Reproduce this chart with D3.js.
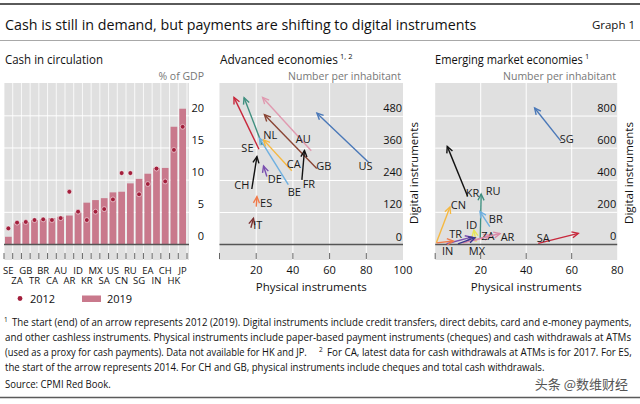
<!DOCTYPE html>
<html><head><meta charset="utf-8">
<script src="https://cdn.jsdelivr.net/npm/d3@7"></script>
<style>body{margin:0;background:#fff}svg{display:block;font-family:"Open Sans",sans-serif}</style>
</head><body><svg id="c" width="640" height="404"></svg>
<script>
// ---------- DATA ----------
const categories = ["SE","ZA","GB","TR","BR","CA","AU","AR","ID","KR","MX","SA","US","CN","RU","SG","EA","IN","CH","HK","JP"];
const cash2019 = [1.2,3.3,3.5,3.8,3.9,4.1,4.3,4.5,5.0,6.5,6.9,7.2,8.1,8.2,9.5,10.2,11.0,11.9,11.9,18.3,21.1];
const cash2012 = [2.5,3.4,3.5,3.8,3.9,3.8,4.1,8.2,5.1,3.8,5.1,5.5,7.0,11.1,11.1,7.8,9.4,11.8,9.8,14.7,18.3];
const cashTicks = [0,5,10,15,20];

const advCountries = ["SE","NL","BE","CA","AU","GB","US","FR","CH","DE","ES","IT"];
const advPhys2012 = [21.5,23.3,37.5,39.4,50.0,53.0,81.2,44.9,17.6,25.8,20.0,17.1];
const advDig2012  = [357,373,224,276,351,285,308,242,208,255,142,63];
const advPhys2019 = [7.9,13.4,21.8,24.0,23.5,24.5,53.1,46.3,20.4,24.0,20.4,18.5];
const advDig2019  = [551,550,398,392,551,486,492,352,329,294,179,98];
const advXTicks = [20,40,60,80,100];
const advYTicks = [0,120,240,360,480];

const emeCountries = ["SG","KR","RU","CN","BR","ID","ZA","TR","AR","SA","IN","MX"];
const emePhys2012 = [55.2,14.2,19.8,0.5,24.0,18.0,17.0,5.0,12.0,45.3,0.6,10.0];
const emeDig2012  = [645,302,34,11,111,16,22,4,9,7,10,4];
const emePhys2019 = [43.7,5.3,20.2,6.5,19.7,17.0,24.0,16.0,28.5,62.9,8.0,17.5];
const emeDig2019  = [850,611,314,233,205,90,58,46,68,69,21,42];
const emeXTicks = [20,40,60,80];
const emeYTicks = [0,200,400,600,800];

// ---------- STYLES ----------
const advColors = ["#c8283c","#3f8f7f","#6fb0e0","#f5b841","#e09ab0","#8a4534","#4a78b8","#111111","#111111","#7a4fb0","#f07a4a","#7b3030"];
const advLabelOff = [[-11.5,-1],[8,-10],[6,7],[2,-7],[-8,-12],[7,-2],[-3,4],[7,4],[-10,-4],[8,3],[10,-3],[7,-3]];
const emeColors = ["#4a78b8","#111111","#3f8f7f","#f5b841","#6fb0e0","#e6e65a","#e09ab0","#7a4fb0","#d98aa8","#c8283c","#f07a4a","#3a3a90"];
const emeLabelOff = [[6,-2],[5,-3],[13,-48],[22,-38],[6,-7],[-4.5,-16.5],[14,-5],[9,-10],[45,-6],[5,-5],[11,8],[19,7]];

const GREY = "#e0e0e0", BAR = "#c9798c", DOT = "#a31f3c", AXIS = "#555";
const svg = d3.select("#c");
svg.append("rect").attr("width",640).attr("height",404).attr("fill","#fff");

// text squeezed horizontally to a given width (condensed look)
function fitText(x, y, t, width, size, fill, family) {
  const e = svg.append("text").attr("x",0).attr("y",0).attr("font-size",size).attr("fill",fill||"#111").text(t);
  if (family) e.style("font-family",family);
  const w = e.node().getComputedTextLength();
  const s = Math.min(1.15, width / w);
  e.attr("transform",`translate(${x},${y}) scale(${s},1)`);
  return e;
}

// ---------- HEADER ----------
svg.append("line").attr("x1",0).attr("x2",640).attr("y1",4).attr("y2",4).attr("stroke","#5a5a5a").attr("stroke-width",2);
fitText(5,29.5,"Cash is still in demand, but payments are shifting to digital instruments",472,15);
svg.append("text").attr("x",635).attr("y",29).attr("font-size",11.5).attr("fill","#111").attr("text-anchor","end")
  .text("Graph 1");
svg.append("line").attr("x1",0).attr("x2",640).attr("y1",40.5).attr("y2",40.5).attr("stroke","#a8a8a8").attr("stroke-width",1);

function panelTitle(x, t, sup, len) {
  fitText(x,64,t,len,13);
  if (sup) svg.append("text").attr("x",x+len+2).attr("y",58.5).attr("font-size",7.5).attr("fill","#111").text(sup);
}
panelTitle(5,"Cash in circulation",null,98);
panelTitle(220,"Advanced economies","1, 2",118);
panelTitle(435,"Emerging market economies","1",148);

function unitLabel(x, t) {
  svg.append("text").attr("x",x).attr("y",79.5).attr("font-size",10.5).attr("fill","#777").attr("text-anchor","end").text(t);
}
unitLabel(204,"% of GDP");
unitLabel(401,"Number per inhabitant");
unitLabel(616,"Number per inhabitant");

// ---------- LEFT PANEL ----------
const xL = d3.scaleBand().domain(categories).range([4,187]).paddingInner(0.23).paddingOuter(0.115);
const yL = d3.scaleLinear().domain([-2.41,25.1]).range([260,83]);
const L = svg.append("g");
L.append("rect").attr("x",4).attr("y",83).attr("width",185).attr("height",177).attr("fill",GREY);
const step = xL.step();
const bounds = d3.range(categories.length+1).map(i => 4 + i*step);
L.selectAll(".vg").data(bounds).join("line").attr("x1",d=>d).attr("x2",d=>d).attr("y1",83).attr("y2",260)
  .attr("stroke","#fff").attr("stroke-width",0.8);
L.selectAll(".hg").data(cashTicks.filter(t=>t>0)).join("line").attr("x1",4).attr("x2",189)
  .attr("y1",d=>yL(d)).attr("y2",d=>yL(d)).attr("stroke","#fff").attr("stroke-width",1);
L.selectAll(".bar").data(categories).join("rect")
  .attr("x",d=>xL(d)).attr("width",xL.bandwidth())
  .attr("y",(d,i)=>yL(cash2019[i])).attr("height",(d,i)=>yL(0)-yL(cash2019[i]))
  .attr("fill",BAR);
L.selectAll(".dot").data(categories).join("circle")
  .attr("cx",d=>xL(d)+xL.bandwidth()/2).attr("cy",(d,i)=>yL(cash2012[i])).attr("r",2.4)
  .attr("fill",DOT).attr("stroke","rgba(255,255,255,0.55)").attr("stroke-width",1);
L.append("line").attr("x1",4).attr("x2",189).attr("y1",yL(0)).attr("y2",yL(0)).attr("stroke",AXIS).attr("stroke-width",1.5);
L.selectAll(".tk").data(bounds).join("line").attr("x1",d=>d).attr("x2",d=>d).attr("y1",253).attr("y2",259)
  .attr("stroke","#666").attr("stroke-width",1);
L.selectAll(".yl").data(cashTicks).join("text").attr("x",204).attr("y",d=>yL(d)-4)
  .attr("text-anchor","end").attr("font-size",11).attr("fill","#111").text(d=>d);
L.selectAll(".cl").data(categories).join("text")
  .attr("x",d=>xL(d)+xL.bandwidth()/2).attr("y",(d,i)=> i%2===0 ? 273.5 : 284)
  .attr("text-anchor","middle").attr("font-size",9.5).attr("fill","#111").text(d=>d);
// legend
L.append("circle").attr("cx",20).attr("cy",298.5).attr("r",2.4).attr("fill",DOT);
L.append("text").attr("x",30).attr("y",302.5).attr("font-size",11).attr("fill","#111").text("2012");
L.append("rect").attr("x",82).attr("y",295.5).attr("width",19).attr("height",6.5).attr("fill",BAR);
L.append("text").attr("x",107).attr("y",302.5).attr("font-size",11).attr("fill","#111").text("2019");

// ---------- ARROW PANELS ----------
function arrowPanel(cfg) {
  const {x0,x1,xs,ys,xTicks,yTicks,tickMarks,countries,p12,d12,p19,d19,colors,offs,axisTitleX} = cfg;
  const g = svg.append("g");
  g.append("rect").attr("x",x0).attr("y",83).attr("width",x1-x0).attr("height",177).attr("fill",GREY);
  g.selectAll(".vg").data(xTicks.filter(t=>xs(t)<x1-2)).join("line")
    .attr("x1",d=>xs(d)).attr("x2",d=>xs(d)).attr("y1",83).attr("y2",260).attr("stroke","#fff").attr("stroke-width",1);
  g.selectAll(".hg").data(yTicks.filter(t=>t>0)).join("line")
    .attr("x1",x0).attr("x2",x1).attr("y1",d=>ys(d)).attr("y2",d=>ys(d)).attr("stroke","#fff").attr("stroke-width",1);
  g.append("line").attr("x1",x0).attr("x2",x1).attr("y1",ys(0)).attr("y2",ys(0)).attr("stroke",AXIS).attr("stroke-width",1.5);
  g.selectAll(".tk").data(tickMarks).join("line").attr("x1",d=>xs(d)).attr("x2",d=>xs(d)).attr("y1",253).attr("y2",259)
    .attr("stroke","#666").attr("stroke-width",1);
  countries.forEach((c,i)=>{
    const ax = xs(p12[i]), ay = ys(d12[i]), bx = xs(p19[i]), by = ys(d19[i]);
    const ang = Math.atan2(by-ay, bx-ax), len = 7, spread = 0.45;
    const h1 = [bx - len*Math.cos(ang-spread), by - len*Math.sin(ang-spread)];
    const h2 = [bx - len*Math.cos(ang+spread), by - len*Math.sin(ang+spread)];
    g.append("line").attr("x1",ax).attr("y1",ay).attr("x2",bx).attr("y2",by)
      .attr("stroke",colors[i]).attr("stroke-width",1.4);
    g.append("path").attr("d",`M${h1[0]},${h1[1]}L${bx},${by}L${h2[0]},${h2[1]}`)
      .attr("fill","none").attr("stroke",colors[i]).attr("stroke-width",1.4);
    g.append("text").attr("x",ax+offs[i][0]).attr("y",ay+offs[i][1]).attr("dy","0.35em")
      .attr("text-anchor","middle").attr("font-size",11).attr("fill","#1a1a1a").text(c);
  });
  g.selectAll(".yl").data(yTicks).join("text").attr("x",x1-1).attr("y",d=>ys(d)-4)
    .attr("text-anchor","end").attr("font-size",11).attr("fill","#111").text(d=>d);
  g.selectAll(".xl").data(xTicks).join("text").attr("x",d=>xs(d)).attr("y",274)
    .attr("text-anchor","middle").attr("font-size",11).attr("fill","#111").text(d=>d);
  g.append("text").attr("x",(xs.range()[0]+xs.range()[1])/2).attr("y",291).attr("text-anchor","middle")
    .attr("font-size",11.5).attr("fill","#111").text("Physical instruments");
  g.append("text").attr("transform",`translate(${axisTitleX},173) rotate(-90)`).attr("text-anchor","middle")
    .attr("font-size",11.5).attr("fill","#111").text("Digital instruments");
}

arrowPanel({x0:219.5,x1:403,
  xs:d3.scaleLinear().domain([0,100]).range([219.5,403]),
  ys:d3.scaleLinear().domain([-58,605]).range([260,83]),
  xTicks:advXTicks, yTicks:advYTicks, tickMarks:[0,20,40,60,80],
  countries:advCountries, p12:advPhys2012, d12:advDig2012, p19:advPhys2019, d19:advDig2019,
  colors:advColors, offs:advLabelOff, axisTitleX:418});

arrowPanel({x0:435.2,x1:617.2,
  xs:d3.scaleLinear().domain([0,80]).range([435.2,617.2]),
  ys:d3.scaleLinear().domain([-97,1006]).range([260,83]),
  xTicks:emeXTicks, yTicks:emeYTicks, tickMarks:[0,20,40,60],
  countries:emeCountries, p12:emePhys2012, d12:emeDig2012, p19:emePhys2019, d19:emeDig2019,
  colors:emeColors, offs:emeLabelOff, axisTitleX:633});

// ---------- FOOTNOTES ----------
function sup(x, y, t) {
  svg.append("text").attr("x",x).attr("y",y).attr("font-size",6.5).attr("fill","#111").text(t);
}
sup(4,322,"1");
fitText(12,326,"The start (end) of an arrow represents 2012 (2019). Digital instruments include credit transfers, direct debits, card and e-money payments,",620,10.5);
fitText(5,341,"and other cashless instruments. Physical instruments include paper-based payment instruments (cheques) and cash withdrawals at ATMs",627,10.5);
fitText(5,356,"(used as a proxy for cash payments). Data not available for HK and JP.",302,10.5);
sup(319,352,"2");
fitText(327,356,"For CA, latest data for cash withdrawals at ATMs is for 2017. For ES,",305,10.5);
fitText(5,371,"the start of the arrow represents 2014. For CH and GB, physical instruments include cheques and total cash withdrawals.",540,10.5);
fitText(5,388,"Source: CPMI Red Book.",106,10.5);
svg.append("text").attr("x",628).attr("y",389).attr("text-anchor","end").attr("font-size",13)
  .style("font-family",'"Noto Sans CJK SC",sans-serif').attr("fill","#555").text("头条 @数维财经");
svg.append("line").attr("x1",0).attr("x2",640).attr("y1",397.5).attr("y2",397.5).attr("stroke","#5a5a5a").attr("stroke-width",1.5);
</script></body></html>
